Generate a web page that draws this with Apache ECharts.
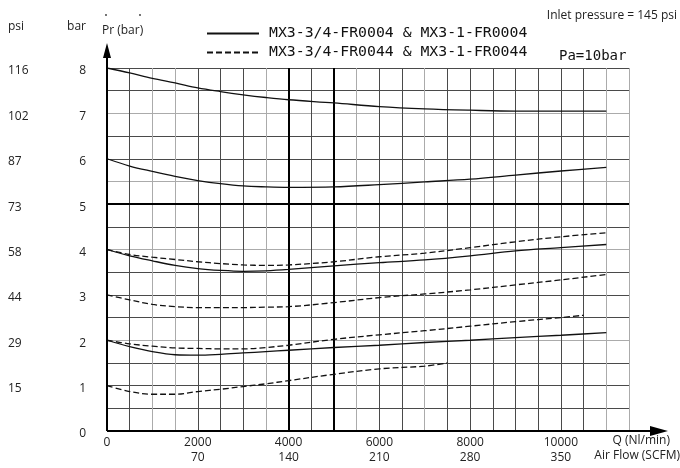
<!DOCTYPE html>
<html><head><meta charset="utf-8">
<script src="https://cdn.jsdelivr.net/npm/echarts@6/dist/echarts.min.js"></script>
<style>html,body{margin:0;padding:0;background:#fff}#c{width:680px;height:468px}</style>
</head><body><div id="c"></div>
<script>
// ---- data ----
const flowX   = [0,500,1000,1500,2000,2500,3000,3500,4000,5000,6000,7000,8000,9000,10000,11000];
const flowXD3 = [0,500,1000,1500,2000,2500,3000,3500,4000,5000,6000,7000,8000,9000,10000,10500];
const flowXD4 = [0,500,1000,1500,2000,2500,3000,3500,4000,5000,6000,7000,7500];

// solid: MX3-3/4-FR0004 & MX3-1-FR0004
const solidFrom8 = [8.00,7.89,7.77,7.67,7.56,7.48,7.41,7.35,7.30,7.23,7.15,7.10,7.07,7.05,7.05,7.05];
const solidFrom6 = [6.00,5.84,5.72,5.61,5.52,5.45,5.40,5.38,5.37,5.38,5.43,5.49,5.55,5.64,5.73,5.81];
const solidFrom4 = [4.00,3.86,3.75,3.65,3.58,3.54,3.52,3.53,3.56,3.64,3.71,3.77,3.86,3.97,4.04,4.11];
const solidFrom2 = [2.00,1.86,1.75,1.68,1.67,1.69,1.72,1.75,1.78,1.84,1.89,1.95,2.00,2.06,2.11,2.17];
// dashed: MX3-3/4-FR0044 & MX3-1-FR0044
const dashFrom4 = [4.00,3.89,3.83,3.78,3.73,3.69,3.66,3.65,3.66,3.73,3.84,3.92,4.04,4.17,4.28,4.37];
const dashFrom3 = [3.00,2.89,2.79,2.74,2.72,2.72,2.72,2.73,2.74,2.83,2.94,3.02,3.11,3.22,3.33,3.45];
const dashFrom2 = [2.00,1.92,1.87,1.83,1.82,1.81,1.81,1.84,1.89,2.02,2.12,2.21,2.31,2.41,2.50,2.55];
const dashFrom1 = [1.00,0.87,0.81,0.81,0.87,0.92,0.98,1.04,1.11,1.25,1.37,1.43,1.50];

const nlTicks   = [0,2000,4000,6000,8000,10000];
const scfmTicks = ['','70','140','210','280','350'];
const barTicks  = [0,1,2,3,4,5,6,7,8];
const psiTicks  = ['','15','29','44','58','73','87','102','116'];

const nameSolid = 'MX3-3/4-FR0004 & MX3-1-FR0004';
const nameDash  = 'MX3-3/4-FR0044 & MX3-1-FR0044';

// ---- chart ----
const zip = (xs, ys) => ys.map((y, i) => [xs[i], y]);
const D = '#4a4a4a', G = '#ababab';
const xGridColors = ['#000',D,G,G,D,D,D,G,D,D,D,G,D,D,G,D,D,D,D,D,D,D,G,G];
const yGridColors = ['#000',D,D,D,G,D,D,D,G,D,D,G,D,D,G,D,D];
const FONT = '"Open Sans", sans-serif';
const TECH = '"DejaVu Sans Mono", monospace';
const labRich = { a: { fontFamily: FONT, fontSize: 12, color: '#222', padding: [6, 0, 0, 0] } };

function lineSeries(name, data, dashed, extra) {
  return Object.assign({
    type: 'line', name, data, smooth: 0.35, symbol: 'none', showSymbol: false,
    lineStyle: { color: '#111', width: 1.3, type: dashed ? [6, 3] : 'solid' },
    itemStyle: { color: '#111' },
    silent: true, z: 5
  }, extra || {});
}

const chart = echarts.init(document.getElementById('c'), null, { renderer: 'canvas' });
const option = {
  animation: false,
  backgroundColor: '#fff',
  grid: { left: 107, right: 51, top: 68, bottom: 37 },
  legend: {
    orient: 'vertical', left: 201, top: 21,
    itemWidth: 52, itemHeight: 14, itemGap: 4,
    data: [nameSolid, nameDash],
    itemStyle: { color: 'rgba(0,0,0,0)', borderWidth: 0, opacity: 0 },
    lineStyle: { inherit: true },
    textStyle: { fontFamily: TECH, fontSize: 14.8, color: '#111', padding: [3,0,0,5] },
    selectedMode: false
  },
  xAxis: {
    type: 'value', min: 0, max: 11500, interval: 500,
    axisLine: { show: false }, axisTick: { show: false },
    axisLabel: {
      interval: 0, margin: 4, showMaxLabel: false,
      fontFamily: FONT, fontSize: 12, color: '#222', lineHeight: 15,
      formatter: v => { const i = nlTicks.indexOf(v); if (i < 0) return ''; return i === 0 ? '0' : v + '\n' + scfmTicks[i]; }
    },
    splitLine: { show: true, lineStyle: { color: xGridColors, width: 1 } }
  },
  yAxis: [{
    type: 'value', min: 0, max: 8, interval: 0.5, position: 'left',
    axisLine: { show: false }, axisTick: { show: false },
    axisLabel: {
      margin: 21, rich: labRich,
      formatter: v => barTicks.indexOf(v) >= 0 ? '{a|' + v + '}' : ''
    },
    splitLine: { show: true, lineStyle: { color: yGridColors, width: 1 } }
  }, {
    type: 'value', min: 0, max: 8, interval: 0.5, position: 'left', offset: 0,
    axisLine: { show: false }, axisTick: { show: false }, splitLine: { show: false },
    axisLabel: {
      margin: 99, align: 'left', rich: labRich,
      formatter: v => (Number.isInteger(v) && psiTicks[v]) ? '{a|' + psiTicks[v] + '}' : ''
    }
  }],
  series: [
    lineSeries(nameSolid, zip(flowX, solidFrom8), false, {
      markLine: {
        silent: true, symbol: 'none', label: { show: false },
        lineStyle: { color: '#000', width: 2, type: 'solid' },
        data: [{ xAxis: 4000 }, { xAxis: 5000 }, { yAxis: 5 }], z: 3
      }
    }),
    lineSeries(nameSolid, zip(flowX, solidFrom6), false),
    lineSeries(nameSolid, zip(flowX, solidFrom4), false),
    lineSeries(nameSolid, zip(flowX, solidFrom2), false),
    lineSeries(nameDash, zip(flowX, dashFrom4), true),
    lineSeries(nameDash, zip(flowX, dashFrom3), true),
    lineSeries(nameDash, zip(flowXD3, dashFrom2), true),
    lineSeries(nameDash, zip(flowXD4, dashFrom1), true)
  ]
};
chart.setOption(option);

const o  = chart.convertToPixel({ gridIndex: 0 }, [0, 0]);
const tr = chart.convertToPixel({ gridIndex: 0 }, [11500, 8]);
const tipX = tr[0] + 39, tipY = tr[1] - 25;
const txt = (x, y, text, opts) => ({
  type: 'text', x, y, silent: true, z: 10,
  style: Object.assign({ text, fill: '#222', font: '12px ' + FONT, verticalAlign: 'middle', align: 'left' }, opts || {})
});
chart.setOption({
  graphic: [
    // axes with arrows
    { type: 'line', z: 8, silent: true, shape: { x1: o[0], y1: o[1], x2: tipX - 14, y2: o[1] }, style: { stroke: '#000', lineWidth: 2 } },
    { type: 'polygon', z: 8, silent: true, shape: { points: [[tipX - 18, o[1] - 5], [tipX, o[1]], [tipX - 18, o[1] + 5]] }, style: { fill: '#000' } },
    { type: 'line', z: 8, silent: true, shape: { x1: o[0], y1: o[1], x2: o[0], y2: tipY + 12 }, style: { stroke: '#000', lineWidth: 2 } },
    { type: 'polygon', z: 8, silent: true, shape: { points: [[o[0] - 4, tipY + 15], [o[0], tipY], [o[0] + 4, tipY + 15]] }, style: { fill: '#000' } },
    // headers and notes
    txt(8, 27, 'psi'),
    txt(86, 27, 'bar', { align: 'right' }),
    txt(102, 31, 'Pr (bar)'),
    txt(677, 16, 'Inlet pressure = 145 psi', { align: 'right' }),
    txt(559, 56, 'Pa=10bar', { font: '14px ' + TECH, fill: '#111' }),
    txt(670, 441, 'Q (Nl/min)', { align: 'right' }),
    txt(680, 456, 'Air Flow (SCFM)', { align: 'right' }),
    { type: 'circle', silent: true, shape: { cx: 106, cy: 15, r: 0.9 }, style: { fill: '#333' } },
    { type: 'circle', silent: true, shape: { cx: 140, cy: 15, r: 0.9 }, style: { fill: '#333' } }
  ]
});
</script>
</body></html>
